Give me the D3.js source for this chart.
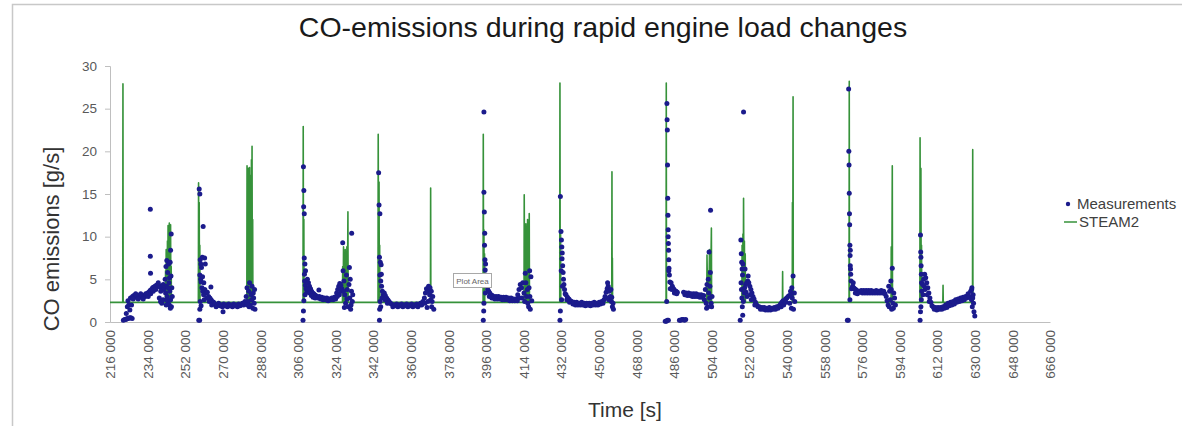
<!DOCTYPE html>
<html><head><meta charset="utf-8">
<script src="https://cdn.jsdelivr.net/npm/d3@7/dist/d3.min.js"></script>
<style>body{margin:0;background:#fff}svg{display:block}</style>
</head><body><svg id="c" width="1182" height="426"></svg>
<script>
const chartTitle = "CO-emissions during rapid engine load changes";
const yTitle = "CO emissions [g/s]";
const xTitle = "Time [s]";
const legendLabels = ["Measurements", "STEAM2"];
const yTicks = [0, 5, 10, 15, 20, 25, 30];
const xTicks = [216,234,252,270,288,306,324,342,360,378,396,414,432,450,468,486,504,522,540,558,576,594,612,630,648,666];
const xTickLabels = ["216 000","234 000","252 000","270 000","288 000","306 000","324 000","342 000","360 000","378 000","396 000","414 000","432 000","450 000","468 000","486 000","504 000","522 000","540 000","558 000","576 000","594 000","612 000","630 000","648 000","666 000"];

const steamPoints = [
 [216,2.3],
 [222.1,2.3],[222.2,27.9],[222.3,2.3],
 [242.5,2.3],[242.6,6.0],[242.75,2.3],[242.9,8.5],[243.05,2.3],[243.2,5.5],[243.35,2.3],[243.5,9.5],[243.65,2.3],[243.8,11.3],[243.95,2.3],[244.1,7.5],[244.25,2.3],[244.4,11.6],[244.55,2.3],[244.7,9.0],[244.85,2.3],[245.0,11.4],[245.15,2.3],[245.3,6.5],[245.4,2.3],
 [258.3,2.3],[258.4,16.3],[258.55,2.3],[258.7,14.0],[258.85,2.3],[259.0,9.0],[259.1,2.3],
 [281.5,2.3],[281.6,18.3],[281.75,2.3],[281.9,17.8],[282.05,2.3],[282.2,18.0],[282.35,2.3],[282.5,17.6],[282.65,2.3],[282.8,18.1],[282.95,2.3],[283.1,17.2],[283.25,2.3],[283.4,16.0],[283.55,2.3],[283.7,19.0],[283.85,2.3],[284.0,20.6],[284.15,2.3],[284.3,12.0],[284.4,2.3],
 [308.4,2.3],[308.5,22.9],[308.65,2.3],[308.8,12.0],[308.9,2.3],
 [327.3,2.3],[327.4,6.5],[327.6,2.3],[327.8,8.8],[328.0,2.3],[328.2,7.0],[328.4,2.3],[328.6,8.5],[328.8,2.3],[329.0,8.0],[329.2,2.3],[329.4,8.8],[329.65,2.3],[329.9,12.9],[330.0,2.3],
 [344.3,2.3],[344.4,22.0],[344.6,2.3],[344.8,16.4],[344.95,2.3],[345.1,9.0],[345.2,2.3],
 [369.4,2.3],[369.5,15.7],[369.6,2.3],
 [394.6,2.3],[394.7,22.0],[394.85,2.3],[395.0,10.8],[395.15,2.3],[395.3,8.0],[395.4,2.3],
 [414.2,2.3],[414.3,14.9],[414.5,2.3],[414.7,10.0],[414.9,2.3],[415.1,11.5],[415.3,2.3],[415.5,9.5],[415.7,2.3],[415.9,12.0],[416.1,2.3],[416.3,11.0],[416.5,2.3],[416.7,12.7],[416.8,2.3],
 [431.3,2.3],[431.4,28.0],[431.55,2.3],[431.7,10.5],[431.8,2.3],
 [456.2,2.3],[456.3,17.6],[456.4,2.3],[456.5,7.5],[456.6,2.3],
 [482.2,2.3],[482.3,28.0],[482.4,2.3],
 [501.7,2.3],[501.8,7.85],[502.1,2.3],[502.4,6.0],[502.7,2.3],[503.0,8.5],[503.45,2.3],[503.9,11.0],[504.0,2.3],
 [518.5,2.3],[518.6,9.0],[518.8,2.3],[519.0,10.3],[519.15,2.3],[519.3,14.5],[519.5,2.3],[519.7,9.5],[519.9,2.3],[520.1,8.0],[520.2,2.3],
 [537.9,2.3],[538.0,5.9],[538.1,2.3],
 [542.6,2.3],[542.7,14.0],[542.85,2.3],[543.0,26.4],[543.1,2.3],
 [569.8,2.3],[569.9,28.2],[570.0,2.3],
 [589.9,2.3],[590.0,8.8],[590.25,2.3],[590.5,18.3],[590.6,2.3],
 [603.7,2.3],[603.8,21.6],[604.0,2.3],[604.2,18.0],[604.35,2.3],[604.5,9.0],[604.6,2.3],
 [614.7,2.3],[614.8,4.3],[614.9,2.3],
 [628.9,2.3],[629.0,20.2],[629.1,2.3]
];

const meas1 = [[222.4,0.2],[223.0,0.3],[223.6,0.3],[224.2,0.4],[224.8,0.4],[225.4,0.5],[226.0,0.5],[226.6,0.4],
 [223.8,1.0],[224.3,1.8],[224.6,2.5],[225.0,2.0],[225.5,1.4],[225.8,2.8],[226.3,2.0],
 [226.8,3.0],[227.4,3.1],[228.0,2.9],[228.6,3.0],[229.2,2.9],[229.8,3.1],[230.4,2.9],[231.0,3.0],[231.6,2.9],[232.2,3.1],[232.8,3.0],
 [227.1,2.7],[228.3,3.3],[229.5,2.7],[230.7,3.3],[231.9,2.7],[233.1,3.3],
 [233.4,3.2],[234.0,3.4],[234.6,3.5],[235.2,3.7],[235.8,3.8],[236.4,4.0],[237.0,4.1],[237.6,4.2],[238.2,4.3],[238.8,4.2],[239.4,4.3],[240.0,4.1],[240.6,4.0],[241.2,3.9],[241.8,3.8],
 [234.3,3.0],[235.5,3.3],[236.7,3.6],[237.9,3.8],[239.1,4.6],[240.3,3.6],[241.5,4.4],
 [239.6,2.8],[240.2,2.4],[240.8,2.2],[241.4,2.6],
 [235.3,13.2],[235.3,7.7],[235.4,5.7],
 [242.4,5.0],[242.6,3.4],[242.8,6.5],[243.0,4.2],[243.2,7.2],[243.4,3.0],[243.6,5.8],[243.8,2.2],[244.0,6.8],[244.2,4.6],[244.4,2.0],[244.6,3.6],[244.8,7.0],[245.0,2.6],[245.2,5.4],[245.3,10.3],[245.4,1.8],[245.6,4.0],[245.8,3.0],[243.1,2.6],[244.5,5.2],[245.0,8.4],[243.9,4.0],[242.9,2.0],[244.9,1.6]];
const meas2 = [[258.5,0.2],[258.9,0.2],
 [258.7,15.6],[259.0,15.0],[260.6,11.2],[259.2,7.3],[259.5,6.8],[259.8,6.4],[260.2,7.6],[259.0,5.5],[259.4,5.0],[259.6,4.7],[260.0,4.0],[260.4,3.6],[260.8,3.2],[259.2,2.4],[259.6,1.9],[259.0,1.5],[261.3,7.5],[261.6,6.8],[260.3,5.3],[260.9,4.6],[261.1,2.6],
 [261.4,3.8],[262.0,3.4],[262.6,3.5],[263.2,3.0],[263.8,2.8],[264.3,4.1],[264.4,2.6],[265.0,2.4],[265.6,2.3],[262.3,2.8],[263.5,2.4],[264.7,2.0],
 [266.2,2.1],[266.8,1.8],[267.4,2.0],[268.0,2.2],[268.6,1.9],[269.2,2.0],[269.8,1.8],[270.1,1.2],[270.4,2.1],[271.0,1.9],[271.6,2.0],[272.2,1.8],[272.8,2.1],[273.4,1.9],[274.0,2.0],[274.6,1.8],[275.2,2.1],[275.8,1.9],[276.4,2.0],[277.0,1.8],[277.6,2.1],[278.2,1.9],[278.8,2.0],[279.4,2.2],[280.0,2.0],[280.6,2.4],
 [281.2,3.0],[281.6,4.0],[282.0,2.4],[282.4,3.6],[282.8,4.6],[283.2,2.0],[283.6,3.2],[284.0,4.2],[284.4,1.6],[284.8,2.8],[285.2,3.8],[285.4,1.5],[282.6,1.8],[283.8,2.6],[281.8,2.0],[284.6,3.4],[285.0,2.2]];
const meas3 = [[308.4,0.2],[308.6,1.3],[308.8,2.5],
 [308.6,18.2],[308.8,15.4],[308.7,13.5],[309.0,12.7],[309.0,7.5],[309.3,6.8],[309.6,6.0],[309.2,4.8],[309.5,4.3],[309.8,3.9],[310.2,3.5],[309.1,5.6],[309.4,3.2],
 [310.5,5.0],[311.0,4.6],[311.5,4.2],[312.0,3.9],[312.5,3.6],[313.0,3.4],[313.5,3.3],[314.0,3.2],[314.5,3.1],[315.0,3.0],[310.8,3.8],[311.6,3.4],[312.4,3.1],[313.2,2.9],[314.2,2.8],[316.0,3.75],
 [315.6,2.8],[316.2,3.0],[316.8,2.7],[317.4,2.9],[318.0,2.6],[318.6,2.8],[319.2,2.6],[319.8,2.8],[320.4,2.5],[321.0,2.7],[321.6,2.6],[322.2,2.8],[322.8,2.6],[323.4,2.9],[324.0,2.7],
 [324.5,3.4],[325.0,3.8],[325.5,4.2],[326.0,4.5],[326.5,4.3],[327.0,3.9],[325.8,3.2],[326.6,3.6],[324.8,3.0],
 [327.4,9.3],[331.7,10.4],[327.6,6.0],[328.0,4.8],[328.4,3.2],[328.8,2.2],[329.2,5.5],[329.6,3.8],[330.0,1.8],[330.4,4.4],[330.8,2.8],[331.2,1.5],[331.6,3.6],[332.0,2.4],[328.2,1.7],[329.4,2.7],[330.6,6.4],[331.0,5.0],[327.8,3.6],[331.4,2.0],[332.2,3.2]];
const meas4 = [[345.0,0.2],
 [344.6,17.5],[344.8,13.7],[345.2,12.7],[345.0,7.6],[345.4,7.0],[345.8,6.7],[345.2,5.5],[345.6,4.8],[346.0,4.2],[346.4,3.6],[346.8,3.2],[345.3,2.4],[345.6,1.8],[345.1,1.5],[345.9,5.6],[346.2,2.8],
 [347.3,3.4],[347.8,3.1],[348.4,2.8],[349.0,2.6],[349.6,2.4],[350.2,2.2],[347.6,2.6],[348.8,2.2],
 [350.8,2.1],[351.4,1.8],[352.0,2.0],[352.6,1.9],[353.2,2.1],[353.8,1.8],[354.4,2.0],[355.0,1.9],[355.6,2.1],[356.2,1.8],[356.8,2.0],[357.4,1.9],[358.0,2.1],[358.6,1.8],[359.2,2.0],[359.8,1.9],[360.4,2.1],[361.0,1.8],[361.6,2.0],[362.2,1.9],[362.8,2.1],[363.4,1.8],[364.0,2.0],[364.6,2.2],[365.2,2.0],[365.8,2.4],
 [366.5,2.8],[367.0,3.4],[367.5,3.9],[368.0,3.6],[368.5,4.2],[369.0,3.2],[369.5,2.6],[370.0,1.8],[370.5,3.0],[371.0,1.5],[368.2,2.4],[367.8,1.7],[369.8,3.6],[366.8,2.2],[370.2,2.4],[369.2,4.0]];
const meas5 = [[394.7,0.2],[394.9,1.3],[395.0,2.2],
 [395.0,24.6],
 [395.0,15.2],[395.2,12.9],[395.3,9.0],[395.5,7.3],[395.6,6.1],[395.9,5.5],[396.2,4.8],[396.5,4.2],[396.8,3.8],[395.4,10.4],[395.8,6.8],[395.7,3.4],
 [397.3,3.6],[397.8,3.4],[398.4,3.2],[399.0,3.1],[397.6,3.0],[398.8,2.8],
 [399.6,3.0],[400.2,2.7],[400.8,3.0],[401.4,2.7],[402.0,3.0],[402.6,2.7],[403.2,2.9],[403.8,2.6],[404.4,2.9],[405.0,2.6],[405.6,2.9],[406.2,2.6],[406.8,2.8],[407.4,2.5],[408.0,2.8],[408.6,2.5],[409.2,2.7],[409.8,2.5],[410.4,2.7],[411.0,2.5],
 [411.2,3.2],[411.8,3.8],[412.4,4.4],[413.0,4.0],[413.6,4.6],[414.2,3.4],[414.8,5.7],[415.4,3.0],[416.0,2.2],[416.6,4.0],[417.2,1.5],[417.5,5.3],[417.9,2.5],[415.8,3.8],[413.2,2.8],[416.4,1.8],[412.0,2.8],[414.5,2.4],[415.1,4.6],[417.0,3.0],[416.9,6.0]];
const meas6 = [[431.4,0.2],[431.6,1.3],
 [431.6,14.7],[431.9,10.6],[432.1,9.6],[432.3,8.8],[432.5,8.1],[432.4,7.4],[432.7,6.6],[432.9,5.8],[433.1,5.0],[433.3,4.4],[433.6,3.8],[433.9,3.3],[432.0,6.0],[432.6,4.2],[432.2,2.6],
 [434.3,3.2],[435.0,2.9],[435.7,2.7],[436.4,2.5],[434.7,2.6],[436.0,2.3],
 [437.0,2.4],[437.6,2.1],[438.2,2.3],[438.8,2.0],[439.4,2.3],[440.0,2.0],[440.6,2.2],[441.2,2.0],[441.8,2.3],[442.4,2.0],[443.0,2.2],[443.6,1.9],[444.2,2.2],[444.8,2.0],[445.4,2.2],[446.0,1.9],[446.6,2.2],[447.2,2.0],[447.8,2.3],[448.4,2.0],[449.0,2.2],[449.6,2.0],[450.2,2.3],[450.8,2.1],[451.4,2.4],[452.0,2.2],
 [452.5,2.6],[453.0,3.0],[453.5,3.5],[454.0,3.9],[454.5,4.2],[455.0,3.6],[455.5,3.0],[456.0,2.4],[456.5,1.8],[457.0,1.5],[454.8,2.6],[455.8,3.8],[456.2,2.9],[453.8,2.8],[454.2,4.6],[456.8,2.2]];
const meas7 = [[481.8,0.1],[482.3,0.1],[482.8,0.2],[483.3,0.2],[488.6,0.2],[489.2,0.2],[489.8,0.3],[490.4,0.3],[491.0,0.2],[491.6,0.3],[482.5,2.4],
 [482.6,25.6],[482.7,23.7],[482.8,22.5],[482.9,18.4],[483.0,14.5],[483.1,12.5],[483.2,10.8],[483.3,9.2],[483.4,8.4],[483.5,7.3],[483.6,6.3],[483.8,5.5],[484.0,4.7],[484.2,3.9],[483.2,10.0],[483.5,6.0],
 [484.6,4.6],[485.2,4.2],[485.8,3.9],[486.4,3.7],[487.0,3.6],[487.6,3.5],[485.0,3.8],[486.2,3.4],[487.3,3.3],
 [490.6,3.5],[491.2,3.2],[491.8,3.4],[492.4,3.1],[493.0,3.4],[493.6,3.1],[494.2,3.3],[494.8,3.0],[495.4,3.3],[496.0,3.0],[496.6,3.3],[497.2,3.0],[497.8,3.2],[498.4,2.9],[499.0,3.2],[499.6,2.9],[500.2,3.1],
 [500.5,2.6],[501.0,3.8],[501.4,2.2],[501.8,4.4],[502.2,1.8],[502.6,3.4],[503.0,2.8],[503.4,5.8],[503.5,13.1],[503.8,2.2],[504.2,3.0],[502.8,8.2],[501.6,1.6],[502.4,5.0],[503.2,4.2],[504.0,1.8]];
const meas8 = [[517.7,0.2],
 [519.3,24.6],
 [518.0,9.6],[518.2,8.0],[518.4,7.0],[518.6,6.2],[518.8,5.5],[518.3,3.8],[518.5,2.8],[518.7,1.8],[518.9,0.8],[519.2,2.4],[519.6,3.4],[518.1,4.6],[519.0,6.8],
 [519.8,4.0],[520.3,4.4],[520.8,4.6],[521.3,4.8],[521.8,4.6],[522.3,4.2],[522.8,3.8],[523.3,3.4],[523.8,3.0],[524.3,2.7],[520.5,3.5],[521.5,5.4],[522.5,3.2],[521.0,3.0],[520.0,6.2],[523.0,2.6],
 [525.0,2.3],[525.6,2.0],[526.2,1.8],[524.7,2.0],
 [526.8,1.8],[527.4,1.5],[528.0,1.7],[528.6,1.5],[529.2,1.7],[529.8,1.4],[530.4,1.6],[531.0,1.4],[531.6,1.7],[532.2,1.4],[532.8,1.6],[533.4,1.5],[534.0,1.7],[534.6,1.5],[535.2,1.8],[535.8,1.6],[536.4,1.9],
 [537.0,2.1],[537.6,2.3],[538.2,2.5],[538.8,2.4],[539.4,2.7],[540.0,2.8],[540.6,3.0],[541.2,3.1],[537.3,1.8],[538.5,2.0],[539.7,2.3],
 [541.4,2.2],[541.8,3.6],[542.2,1.6],[542.6,2.8],[543.0,5.4],[543.2,1.5],[543.6,3.4],[543.8,2.4],[542.0,3.2],[542.4,4.0]];
const meas9 = [[569.0,0.2],[569.4,0.2],
 [569.6,27.3],[569.7,20.0],[569.8,18.4],[569.9,15.1],[570.0,12.7],[570.1,11.4],[570.2,9.0],[570.3,7.8],[570.4,6.6],[570.5,6.2],[570.6,5.6],[570.8,4.8],[571.0,3.9],[570.2,2.6],[570.4,8.4],
 [571.5,4.2],[572.0,4.0],[572.5,3.9],[573.0,3.8],[573.5,3.7],[574.0,3.6],[574.5,3.6],[575.0,3.5],[571.8,4.6],[572.8,3.4],[573.8,3.3],
 [575.6,3.7],[576.2,3.4],[576.8,3.7],[577.4,3.4],[578.0,3.7],[578.6,3.4],[579.2,3.7],[579.8,3.4],[580.4,3.7],[581.0,3.4],[581.6,3.6],[582.2,3.4],[582.8,3.7],[583.4,3.4],[584.0,3.6],[584.6,3.4],[585.2,3.7],[585.8,3.4],[586.4,3.6],[587.0,3.3],
 [587.6,3.0],[588.0,2.5],[588.5,2.0],[589.0,1.8],[589.5,2.6],[590.0,3.8],[590.5,6.3],[590.8,2.2],[591.2,3.4],[591.6,2.8],[589.2,3.6],[588.8,4.2],[591.0,1.6],[590.2,1.5],[589.8,4.8],[592.0,2.0]];
const meas10 = [[603.8,0.2],[604.0,1.2],
 [604.0,10.2],[604.1,8.2],[604.2,7.6],[604.3,6.6],[604.4,5.6],[604.5,4.6],[604.6,3.6],[604.2,1.8],[604.4,2.6],
 [605.0,4.4],[605.5,5.0],[606.0,5.6],[606.5,5.2],[607.0,4.6],[607.5,4.0],[608.0,3.4],[608.5,2.8],[609.0,2.3],[609.5,1.9],[606.2,3.8],[607.2,3.2],[605.8,4.2],[605.2,3.2],[608.2,2.4],
 [610.0,1.8],[610.6,1.5],[611.2,1.7],[611.8,1.4],[612.4,1.7],[613.0,1.5],[613.6,1.7],[614.2,1.5],[614.8,1.8],[615.4,1.6],
 [616.0,2.0],[616.6,1.7],[617.2,2.2],[617.8,1.9],[618.4,2.3],[619.0,2.0],[619.6,2.4],[620.2,2.1],[620.8,2.6],[621.4,2.3],[622.0,2.7],[622.6,2.4],[623.2,2.8],[623.8,2.5],[624.4,2.9],[625.0,2.6],[625.6,3.0],[626.2,2.8],[626.8,3.3],[627.4,3.0],[628.0,3.6],[628.5,3.8],
 [628.4,2.6],[628.8,1.8],[629.2,3.2],[629.6,1.2],[630.0,0.7],[629.4,2.2],[628.6,4.0],[629.0,2.8]];

const measurements = [].concat(meas1, meas2, meas3, meas4, meas5, meas6, meas7, meas8, meas9, meas10);

const FONT = "'Liberation Sans', Arial, sans-serif";
const BLUE = "#1b1b8c";
const GREEN = "#36923a";
const svg = d3.select("#c");

const x = d3.scaleLinear().domain([216, 666]).range([110, 1050]);
const y = d3.scaleLinear().domain([0, 30]).range([322, 66]);

// chart border
svg.append("rect").attr("x", 12.5).attr("y", 4.5).attr("width", 1200).attr("height", 440)
  .attr("fill", "none").attr("stroke", "#c8c8c8").attr("stroke-width", 1.5);

// title
svg.append("text").attr("x", 603).attr("y", 37).attr("text-anchor", "middle")
  .attr("font-family", FONT).attr("font-size", 28.5).attr("fill", "#1a1a1a").text(chartTitle);

// y axis
const gy = svg.append("g").attr("transform", "translate(110,0)")
  .call(d3.axisLeft(y).tickValues(yTicks).tickSize(5).tickPadding(8));
gy.attr("font-family", FONT).attr("font-size", 13.5);
gy.select(".domain").attr("stroke", "#bfbfbf");
gy.selectAll(".tick line").attr("stroke", "#bfbfbf");
gy.selectAll(".tick text").attr("fill", "#595959");

// x axis
const gx = svg.append("g").attr("transform", "translate(0,322)")
  .call(d3.axisBottom(x).tickValues(xTicks).tickFormat((d, i) => xTickLabels[i]).tickSize(0));
gx.attr("font-family", FONT).attr("font-size", 13.5);
gx.select(".domain").attr("stroke", "#bfbfbf");
gx.selectAll(".tick text").attr("fill", "#595959")
  .attr("transform", "rotate(-90)").attr("text-anchor", "end")
  .attr("x", -8).attr("y", 0).attr("dy", "0.35em");

// STEAM2 line
svg.append("path").datum(steamPoints)
  .attr("d", d3.line().x(d => x(d[0])).y(d => y(d[1])))
  .attr("fill", "none").attr("stroke", GREEN).attr("stroke-width", 1.6)
  .attr("stroke-linejoin", "round");

// Measurements
svg.append("g").selectAll("circle").data(measurements).join("circle")
  .attr("cx", d => x(d[0])).attr("cy", d => y(d[1])).attr("r", 2.5)
  .attr("fill", BLUE);

// "Plot Area" hover box
svg.append("rect").attr("x", 453.5).attr("y", 273.5).attr("width", 38).attr("height", 14)
  .attr("fill", "#fff").attr("stroke", "#a8a8a8");
svg.append("text").attr("x", 472.5).attr("y", 283.5).attr("text-anchor", "middle")
  .attr("font-family", FONT).attr("font-size", 8).attr("fill", "#666").text("Plot Area");

// axis titles
svg.append("text").attr("transform", "translate(59,239) rotate(-90)").attr("text-anchor", "middle")
  .attr("font-family", FONT).attr("font-size", 22).attr("fill", "#333").text(yTitle);
svg.append("text").attr("x", 625).attr("y", 417).attr("text-anchor", "middle")
  .attr("font-family", FONT).attr("font-size", 21).attr("fill", "#333").text(xTitle);

// legend
const lg = svg.append("g").attr("font-family", FONT).attr("font-size", 15).attr("fill", "#404040");
lg.append("circle").attr("cx", 1068).attr("cy", 204).attr("r", 2.2).attr("fill", BLUE);
lg.append("text").attr("x", 1077).attr("y", 209).text(legendLabels[0]);
lg.append("line").attr("x1", 1064).attr("x2", 1077).attr("y1", 222).attr("y2", 222)
  .attr("stroke", GREEN).attr("stroke-width", 1.5);
lg.append("text").attr("x", 1079).attr("y", 227).text(legendLabels[1]);
</script>
</body></html>
